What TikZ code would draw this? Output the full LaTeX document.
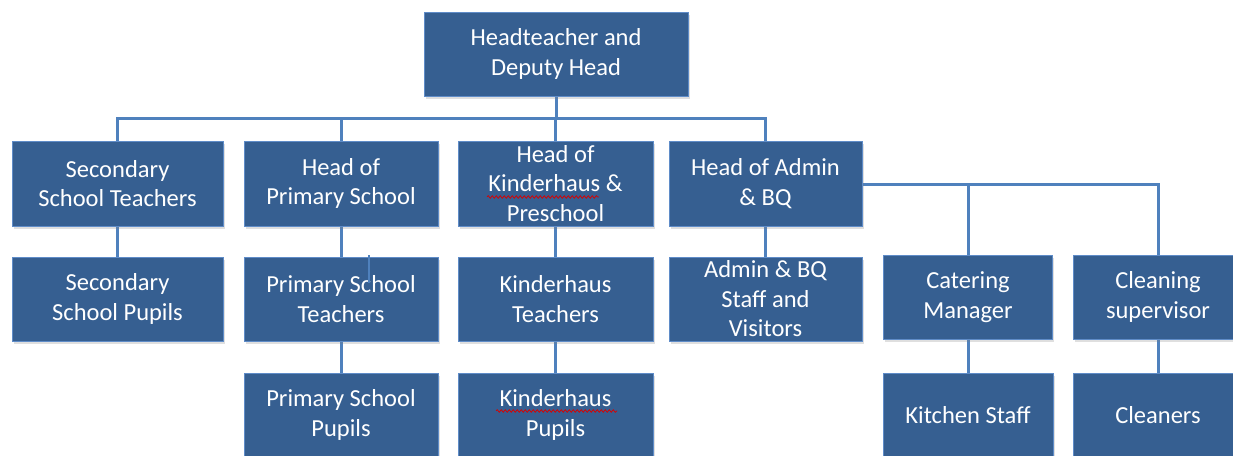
\documentclass[tikz,border=0pt]{standalone}
\usepackage{fontspec}
\setmainfont{Carlito}
\usetikzlibrary{shadows,decorations.pathmorphing,backgrounds}
\definecolor{boxfill}{RGB}{54,95,145}
\definecolor{boxline}{RGB}{95,140,200}
\definecolor{conn}{RGB}{79,129,189}
\tikzset{
  orgbox/.style={draw=boxline, line width=1pt, fill=boxfill, text=white,
    align=center, inner sep=0pt, font=\fontsize{24.5}{29.5}\selectfont,
    drop shadow={opacity=0.25, shadow xshift=1.5pt, shadow yshift=-2.5pt}},
  link/.style={draw=conn, line width=3pt},
  squig/.style={draw=red!85!black, line width=0.7pt, decorate,
    decoration={snake, amplitude=1.3pt, segment length=4pt}}
}
\begin{document}
\begin{tikzpicture}[x=1pt,y=-1pt]
\useasboundingbox (0,0) rectangle (1233,455);
\clip (0,0) rectangle (1233,455);
% top
\node[orgbox, minimum width=264pt, minimum height=84pt] (top) at (556,54) {Headteacher and\\Deputy Head};
% row 1
\node[orgbox, minimum width=211pt, minimum height=85pt] (sst) at (117.5,183.5) {Secondary\\School Teachers};
\node[orgbox, minimum width=194pt, minimum height=85pt] (hps) at (341,183.5) {Head of\\Primary School};
\node[orgbox, minimum width=195pt, minimum height=85pt] (hk) at (555.5,183.5) {Head of\\Kinderhaus \&\\Preschool};
\node[orgbox, minimum width=193pt, minimum height=85pt] (ha) at (765.5,183.5) {Head of Admin\\\& BQ};
% row 2
\node[orgbox, minimum width=211pt, minimum height=84pt] (ssp) at (117.5,299) {Secondary\\School Pupils};
\node[orgbox, minimum width=194pt, minimum height=84pt] (pst) at (341,299) {Primary School\\Teachers};
\node[orgbox, minimum width=195pt, minimum height=84pt] (kt) at (555.5,299) {Kinderhaus\\Teachers};
\node[orgbox, minimum width=193pt, minimum height=84pt] (abs) at (765.5,299) {Admin \& BQ\\Staff and\\Visitors};
\node[orgbox, minimum width=169pt, minimum height=84pt] (cm) at (968,297) {Catering\\Manager};
\node[orgbox, minimum width=170pt, minimum height=84pt] (cs) at (1158,297) {Cleaning\\supervisor};
% row 3
\node[orgbox, minimum width=194pt, minimum height=84pt] (psp) at (341,415) {Primary School\\Pupils};
\node[orgbox, minimum width=195pt, minimum height=84pt] (kp) at (555.5,415) {Kinderhaus\\Pupils};
\node[orgbox, minimum width=170pt, minimum height=84pt] (ks) at (968,415) {Kitchen Staff};
\node[orgbox, minimum width=170pt, minimum height=84pt] (cl) at (1158,415) {Cleaners};
% spell-check underlines
\draw[squig] (487,197) -- (599,197);
\draw[squig] (496,411) -- (617,411);
% stray line
\coordinate (stray) at (369,255);
\draw[link, line width=2.5pt] (stray) -- ++(0,28);
\begin{scope}[on background layer]
\coordinate (bus) at (556,118);
\coordinate (bus2) at (1158,184);
\draw[link] (top.south) -- (bus);
\draw[link] (sst.north) |- (bus);
\draw[link] (hps.north) |- (bus);
\draw[link] (hk.north) |- (bus);
\draw[link] (ha.north) |- (bus);
\draw[link] (sst) -- (ssp);
\draw[link] (hps) -- (pst);
\draw[link] (hk) -- (kt);
\draw[link] (ha) -- (abs);
\draw[link] (pst) -- (psp);
\draw[link] (kt) -- (kp);
\draw[link] (ha.east |- bus2) -- (bus2) -- (cs.north);
\draw[link] (cm.north) |- (bus2);
\draw[link] (cm) -- (ks);
\draw[link] (cs) -- (cl);
\end{scope}
\end{tikzpicture}
\end{document}
